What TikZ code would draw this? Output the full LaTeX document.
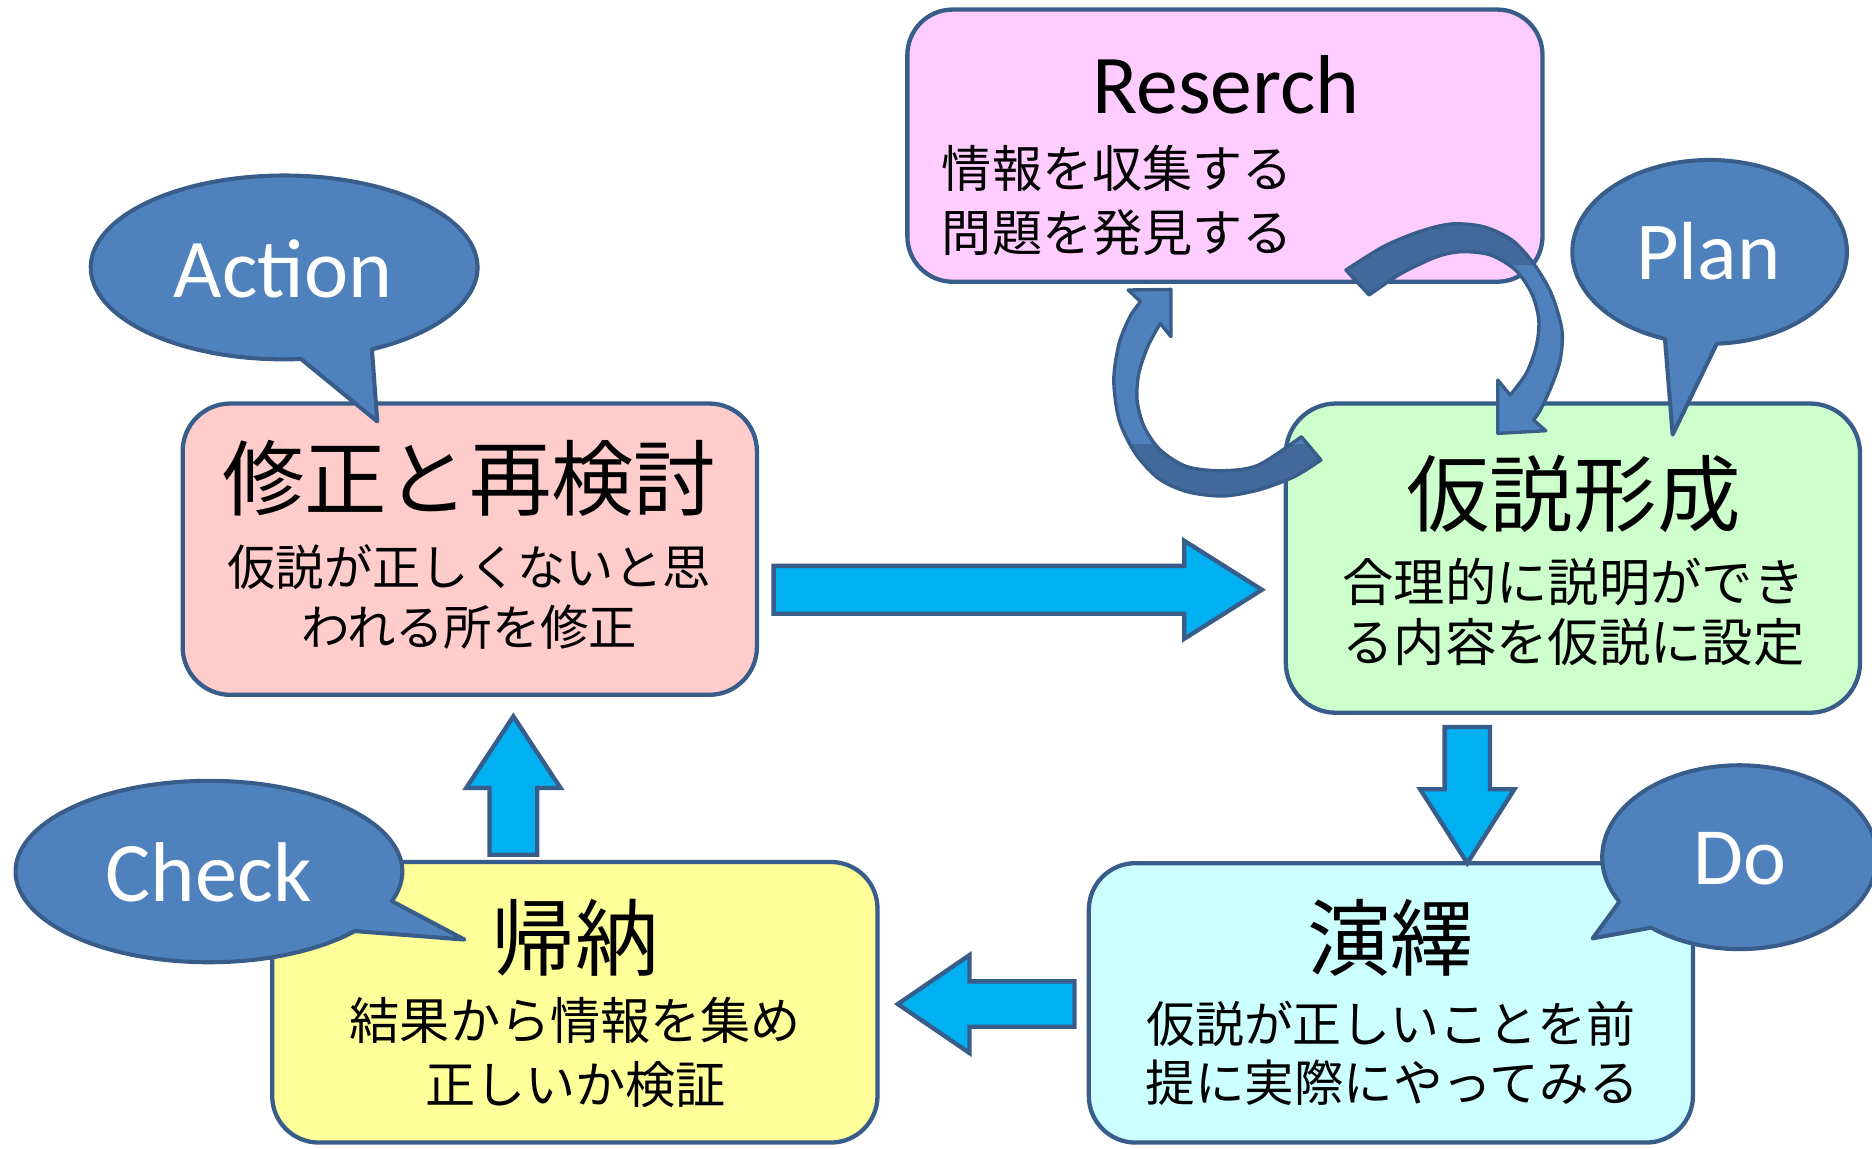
\documentclass[tikz,border=0pt]{standalone}
\usepackage{fontspec}
\setmainfont{Carlito}
\newfontfamily\jp{Noto Sans CJK JP}
\newfontfamily\lat{Carlito}
\usetikzlibrary{calc}
\definecolor{bord}{HTML}{385D8A}
\definecolor{pinkf}{HTML}{FFCCFF}
\definecolor{salmonf}{HTML}{FFCCCC}
\definecolor{greenf}{HTML}{CCFFCC}
\definecolor{cyanf}{HTML}{CCFFFF}
\definecolor{yellowf}{HTML}{FFFF99}
\definecolor{arrowf}{HTML}{00B0F0}
\definecolor{callf}{HTML}{4F81BD}
\definecolor{darkf}{HTML}{41699C}
\tikzset{
  box/.style={draw=bord, line width=1.8pt, rectangle, inner sep=0pt, outer sep=0pt},
  blockarrowstyle/.style={draw=bord, fill=arrowf, line width=1.8pt, line join=miter},
  callout/.style={draw=bord, fill=callf, line width=1.7pt, line join=round},
  carrowline/.style={draw=bord, line width=1.4pt, line join=round},
  lbl/.style={inner sep=0pt, outer sep=0pt, anchor=base},
  wlbl/.style={inner sep=0pt, outer sep=0pt, anchor=base west},
}
\newcommand\fs[1]{\fontsize{#1}{#1}\selectfont}
\newcommand\blockarrow[5]{%
  \coordinate (ba-h) at ($(#2)!#5!(#1)$);
  \filldraw[blockarrowstyle] ($(#1)!#3!90:(#2)$) -- ($(ba-h)!#3!90:(#2)$) -- ($(ba-h)!#4!90:(#2)$) -- (#2)
    -- ($(ba-h)!#4!-90:(#2)$) -- ($(ba-h)!#3!-90:(#2)$) -- ($(#1)!#3!-90:(#2)$) -- cycle;}
\def\upperpath{plot[smooth] coordinates {(1127.3,226.2) (1158.7,206.6) (1188.6,194.1) (1215.6,187.6) (1242.5,189.9) (1266.4,201.1) (1284.4,220.6) (1299.3,245.7) (1308.3,276.4) (1306.8,301.6) (1299.3,323.9) (1290.3,343.4) (1284.4,351.8)} -- (1294.8,360.8) -- (1254.5,363.0) -- (1254.5,318.3) -- plot[smooth] coordinates {(1264.9,330.9) (1278.4,312.7) (1286.7,290.4) (1288.9,268.1) (1282.9,245.7) (1269.4,226.2) (1248.5,213.6) (1224.5,210.8) (1203.6,215.0) (1173.7,229.0) (1146.8,247.1)} -- cycle}
\def\lowerpath{plot[smooth] coordinates {(1106.4,385.3) (1084.0,399.3) (1054.1,410.4) (1024.1,415.5) (994.2,411.8) (970.3,400.7) (950.9,379.7) (937.4,351.8) (932.9,318.3) (937.4,287.6) (946.4,265.3) (955.3,252.7)} -- (944.9,242.9) -- (980.8,242.4) -- (980.8,282.0) -- plot[smooth] coordinates {(971.8,270.9) (961.3,290.4) (953.9,312.7) (952.4,335.1) (958.3,357.4) (971.8,376.9) (994.2,390.9) (1024.1,394.3) (1054.1,389.5) (1090.0,365.8)} -- cycle}
\begin{document}
\begin{tikzpicture}[x=0.5pt, y=-0.5pt]
\useasboundingbox (0,0) rectangle (1568,962);
\clip (0,0) rectangle (1568,962);

% boxes
\node[box, fill=pinkf, minimum width=266pt, minimum height=114pt, rounded corners=19pt] (research) at (1026,122) {};
\node[box, fill=salmonf, minimum width=240.5pt, minimum height=122pt, rounded corners=20pt] (fix) at (393.5,460) {};
\node[box, fill=greenf, minimum width=240.5pt, minimum height=129.5pt, rounded corners=21pt] (hyp) at (1317.5,467.5) {};
\node[box, fill=cyanf, minimum width=253pt, minimum height=117pt, rounded corners=19.5pt] (ded) at (1165,840) {};
\node[box, fill=yellowf, minimum width=253.5pt, minimum height=117.5pt, rounded corners=19.5pt] (ind) at (481.5,839.5) {};

% block arrows
\coordinate (ra-s) at (648,494);  \coordinate (ra-e) at (1057,494);
\blockarrow{ra-s}{ra-e}{10pt}{20.5pt}{32.5pt}
\coordinate (da-s) at (1229,609); \coordinate (da-e) at (1229,723);
\blockarrow{da-s}{da-e}{9.5pt}{19.75pt}{31pt}
\coordinate (la-s) at (900,841);  \coordinate (la-e) at (752,841);
\blockarrow{la-s}{la-e}{9.5pt}{20.5pt}{30pt}
\coordinate (ua-s) at (430,716);  \coordinate (ua-e) at (430,600);
\blockarrow{ua-s}{ua-e}{10pt}{19.75pt}{30pt}

% curved arrows
\fill[callf] \upperpath;
\begin{scope}
  \clip \upperpath;
  \fill[darkf] (1100,150) -- (1320,150) -- (1320,222) -- (1240,222) -- (1100,300) -- cycle;
\end{scope}
\draw[carrowline] \upperpath;
\fill[callf] \lowerpath;
\begin{scope}
  \clip \lowerpath;
  \fill[darkf] (900,372) rectangle (1130,440);
\end{scope}
\draw[carrowline] \lowerpath;

% callouts
\coordinate (act-c) at (238,224);   \coordinate (act-tip) at (316,353);
\filldraw[callout] (act-tip) -- ($(act-c)+(85:162 and 77)$) arc[start angle=85, end angle=423, x radius=162, y radius=77] -- cycle;
\coordinate (plan-c) at (1432,211); \coordinate (plan-tip) at (1401,364);
\filldraw[callout] (plan-tip) -- ($(plan-c)+(109:115 and 77)$) arc[start angle=109, end angle=447, x radius=115, y radius=77] -- cycle;
\coordinate (chk-c) at (175,730);   \coordinate (chk-tip) at (389,787);
\filldraw[callout] (chk-tip) -- ($(chk-c)+(41:162 and 76)$) arc[start angle=41, end angle=379, x radius=162, y radius=76] -- cycle;
\coordinate (do-c) at (1457,718);   \coordinate (do-tip) at (1334,786);
\filldraw[callout] (do-tip) -- ($(do-c)+(151:115 and 77)$) arc[start angle=151, end angle=490, x radius=115, y radius=77] -- cycle;

% callout texts
\node[lbl, font=\lat\fs{35pt}, text=white] (act-txt) at (237,249) {Action};
\node[lbl, font=\lat\fs{34.5pt}, text=white] (plan-txt) at (1431,234.5) {Plan};
\node[lbl, font=\lat\fs{35.5pt}, text=white] (chk-txt) at (175,755.5) {Check};
\node[lbl, font=\lat\fs{34pt}, text=white] (do-txt) at (1457,741) {Do};

% box texts
\node[lbl, font=\lat\fs{35pt}] (res-t) at (1027,95) {Reserch};
\node[wlbl, font=\jp\fs{21pt}] (res-l1) at (789,157) {情報を収集する};
\node[wlbl, font=\jp\fs{21pt}] (res-l2) at (789,211) {問題を発見する};

\node[lbl, font=\jp\fs{34.5pt}] (fix-t) at (393,427) {修正と再検討};
\node[lbl, font=\jp\fs{20.25pt}] (fix-l1) at (393,490) {仮説が正しくないと思};
\node[lbl, font=\jp\fs{20.25pt}] (fix-l2) at (393,541) {われる所を修正};

\node[lbl, font=\jp\fs{35pt}] (hyp-t) at (1318,440) {仮説形成};
\node[lbl, font=\jp\fs{21.5pt}] (hyp-l1) at (1318,504) {合理的に説明ができ};
\node[lbl, font=\jp\fs{21.5pt}] (hyp-l2) at (1318,554) {る内容を仮説に設定};

\node[lbl, font=\jp\fs{35pt}] (ded-t) at (1165,812) {演繹};
\node[lbl, font=\jp\fs{20.5pt}] (ded-l1) at (1165,873) {仮説が正しいことを前};
\node[lbl, font=\jp\fs{20.75pt}] (ded-l2) at (1166,923) {提に実際にやってみる};

\node[lbl, font=\jp\fs{35pt}] (ind-t) at (482,812) {帰納};
\node[lbl, font=\jp\fs{21pt}] (ind-l1) at (482,871) {結果から情報を集め};
\node[lbl, font=\jp\fs{21pt}] (ind-l2) at (482,924) {正しいか検証};
\end{tikzpicture}
\end{document}
